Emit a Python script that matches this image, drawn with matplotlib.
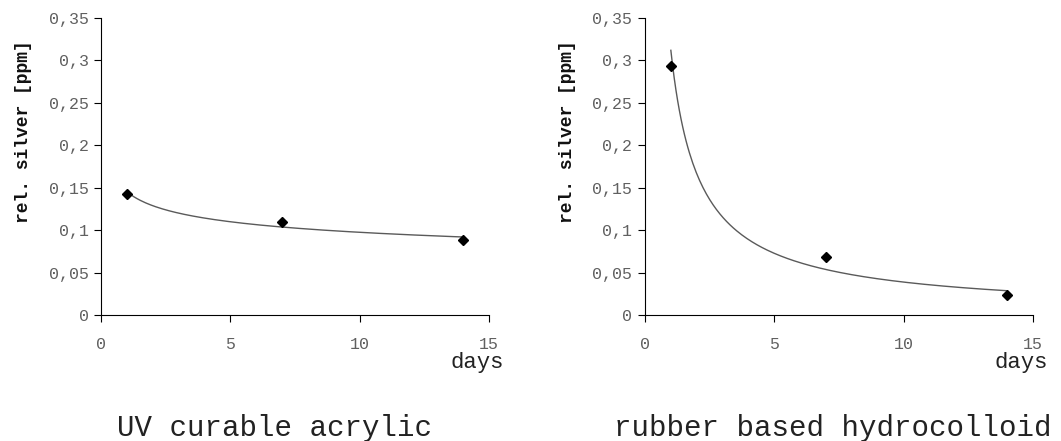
import matplotlib.pyplot as plt
import numpy as np

plt.rcParams["font.family"] = ["Liberation Mono", "DejaVu Sans Mono"]

# data
days = [1, 7, 14]
acrylic = [0.143, 0.110, 0.088]
hydrocolloid = [0.293, 0.068, 0.024]
titles = ["UV curable acrylic", "rubber based hydrocolloid"]
xticks = [0, 5, 10, 15]
yticks = [0, 0.05, 0.1, 0.15, 0.2, 0.25, 0.3, 0.35]
ytick_labels = ["0", "0,05", "0,1", "0,15", "0,2", "0,25", "0,3", "0,35"]

fig = plt.figure(figsize=(10.61, 4.41), dpi=100)

# axes boxes in figure coords
boxes = [[0.0952, 0.2857, 0.3657, 0.6735], [0.6079, 0.2857, 0.3657, 0.6735]]
title_x = [0.259, 0.785]

for box, vals, title, tx in zip(boxes, [acrylic, hydrocolloid], titles, title_x):
    ax = fig.add_axes(box)

    # power trendline fitted to the points (like excel)
    b, ln_a = np.polyfit(np.log(days), np.log(vals), 1)
    xs = np.linspace(days[0], days[-1], 200)
    ax.plot(xs, np.exp(ln_a) * xs ** b, color="#5a5a5a", lw=1.0)
    ax.plot(days, vals, "D", color="black", ms=5.5, ls="none")

    ax.set_xlim(0, 15)
    ax.set_ylim(0, 0.35)
    ax.set_xticks(xticks)
    ax.set_yticks(yticks)
    ax.set_yticklabels(ytick_labels)
    ax.spines["top"].set_visible(False)
    ax.spines["right"].set_visible(False)
    ax.tick_params(axis="x", direction="out", length=5, pad=11, labelsize=12, labelcolor="#606060")
    ax.tick_params(axis="y", direction="out", length=5, pad=4, labelsize=12, labelcolor="#606060")

    ax.set_ylabel("rel. silver [ppm]", fontsize=13, color="#111111", fontweight="bold")
    ax.yaxis.set_label_coords(-0.178, 0.616)
    ax.set_xlabel("days", fontsize=16, color="#222222", ha="right")
    ax.xaxis.set_label_coords(1.038, -0.125)

    fig.text(tx, 0.012, title, fontsize=21, color="#222222", ha="center", va="baseline")

fig.savefig("out.png", dpi=100)
